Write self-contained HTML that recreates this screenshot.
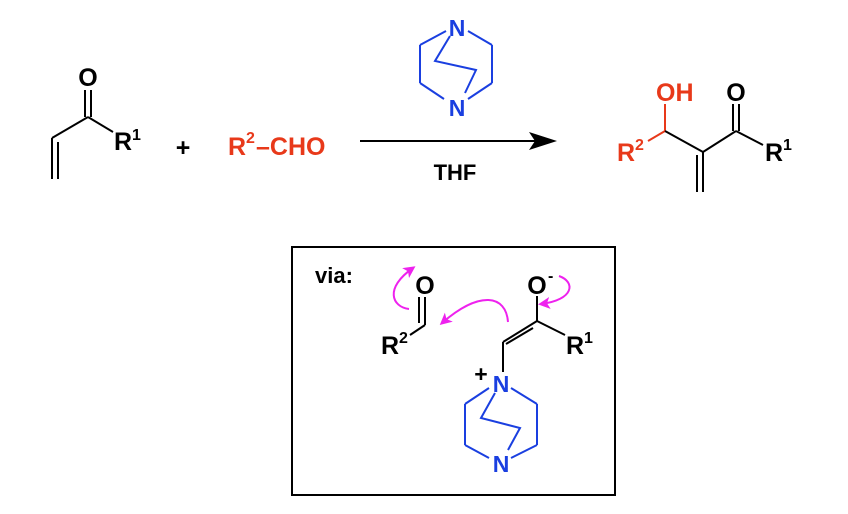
<!DOCTYPE html>
<html><head><meta charset="utf-8"><style>
html,body{margin:0;padding:0;background:#fff;}
svg{display:block;}
text{font-family:"Liberation Sans",Arial,sans-serif;font-weight:bold;}
</style></head><body>
<svg width="848" height="514" viewBox="0 0 848 514" xmlns="http://www.w3.org/2000/svg">
<defs>
<marker id="mh" markerWidth="12" markerHeight="12" refX="9" refY="6" orient="auto" markerUnits="userSpaceOnUse">
<path d="M0,0 L12,6 L0,12 L3,6 z" fill="#ee22ee"/></marker>
</defs>
<g stroke="#000" stroke-width="2" fill="none">
<line x1="85" y1="90" x2="85" y2="117"/><line x1="91" y1="90" x2="91" y2="117"/>
<line x1="88" y1="117" x2="113" y2="132"/>
<line x1="88" y1="117" x2="52" y2="138"/>
<line x1="52" y1="138" x2="52" y2="179"/><line x1="58" y1="142" x2="58" y2="179"/>
<line x1="360" y1="141" x2="540" y2="141"/>
</g>
<path d="M557,141 L529,132 L535,141 L529,150 z" fill="#000"/>
<text x="88" y="86" font-size="25" text-anchor="middle">O</text>
<text x="114" y="150" font-size="25">R</text><text x="132" y="140" font-size="16">1</text>
<text x="183" y="156" font-size="25" text-anchor="middle">+</text>
<g fill="#e8391a"><text x="228" y="155" font-size="25">R</text><text x="246" y="143" font-size="16">2</text><text x="256" y="155" font-size="25">–CHO</text></g>
<text x="455" y="180" font-size="22" text-anchor="middle">THF</text>
<g stroke="#1a3fe0" stroke-width="2" fill="none">
<line x1="446" y1="31" x2="420" y2="45"/><line x1="420" y1="45" x2="420" y2="83"/><line x1="420" y1="83" x2="444" y2="99"/>
<line x1="468" y1="31" x2="492" y2="45"/><line x1="492" y1="45" x2="492" y2="83"/><line x1="492" y1="83" x2="468" y2="99"/>
<polyline points="450,36 435,61 476,70 465,93"/>
</g>
<g fill="#1a3fe0"><text x="457" y="36" font-size="23" text-anchor="middle">N</text><text x="457" y="116" font-size="23" text-anchor="middle">N</text></g>
<g stroke-width="2" fill="none">
<line x1="665" y1="104" x2="665" y2="131" stroke="#e8391a"/>
<line x1="648" y1="141" x2="665" y2="131" stroke="#e8391a"/>
<g stroke="#000">
<line x1="665" y1="131" x2="703" y2="152"/>
<line x1="703" y1="152" x2="736" y2="131"/>
<line x1="703" y1="152" x2="703" y2="192"/><line x1="697" y1="155" x2="697" y2="192"/>
<line x1="733" y1="104" x2="733" y2="131"/><line x1="739" y1="104" x2="739" y2="131"/>
<line x1="736" y1="131" x2="763" y2="145"/>
</g></g>
<text x="656" y="101" font-size="25" fill="#e8391a">OH</text>
<text x="736" y="101" font-size="25" text-anchor="middle">O</text>
<text x="617" y="161" font-size="25" fill="#e8391a">R</text><text x="635" y="150" font-size="16" fill="#e8391a">2</text>
<text x="765" y="161" font-size="25">R</text><text x="783" y="150" font-size="16">1</text>
<rect x="292" y="247" width="323" height="248" fill="none" stroke="#000" stroke-width="2"/>
<text x="315" y="283" font-size="22">via:</text>
<g stroke="#000" stroke-width="2" fill="none">
<line x1="419" y1="297" x2="419" y2="323"/><line x1="425" y1="297" x2="425" y2="325"/>
<line x1="425" y1="325" x2="410" y2="335"/>
<line x1="537" y1="296" x2="537" y2="321"/>
<line x1="537" y1="321" x2="565" y2="335"/>
<line x1="537" y1="321" x2="503" y2="342"/><line x1="533" y1="328" x2="506" y2="344"/>
<line x1="503" y1="342" x2="503" y2="372"/>
</g>
<text x="425" y="294" font-size="25" text-anchor="middle">O</text>
<text x="537" y="294" font-size="25" text-anchor="middle">O</text><text x="548" y="281" font-size="16">-</text>
<text x="381" y="354" font-size="25">R</text><text x="399" y="343" font-size="16">2</text>
<text x="566" y="354" font-size="25">R</text><text x="584" y="343" font-size="16">1</text>
<text x="481" y="382" font-size="23" text-anchor="middle">+</text>
<g stroke="#1a3fe0" stroke-width="2" fill="none">
<line x1="489" y1="388" x2="465" y2="404"/><line x1="465" y1="404" x2="465" y2="445"/><line x1="465" y1="445" x2="489" y2="458"/>
<line x1="511" y1="388" x2="537" y2="404"/><line x1="537" y1="404" x2="537" y2="445"/><line x1="537" y1="445" x2="511" y2="458"/>
<polyline points="495,393 481,418 520,428 508,450"/>
</g>
<g fill="#1a3fe0"><text x="501" y="392" font-size="23" text-anchor="middle">N</text><text x="501" y="472" font-size="23" text-anchor="middle">N</text></g>
<g stroke="#ee22ee" stroke-width="2" fill="none">
<path d="M409,309 C392,307 384,288 413,268" marker-end="url(#mh)"/>
<path d="M508,322 C506,295 480,290 442,323" marker-end="url(#mh)"/>
<path d="M559,276 C576,282 574,300 541,304" marker-end="url(#mh)"/>
</g>
</svg>
</body></html>
